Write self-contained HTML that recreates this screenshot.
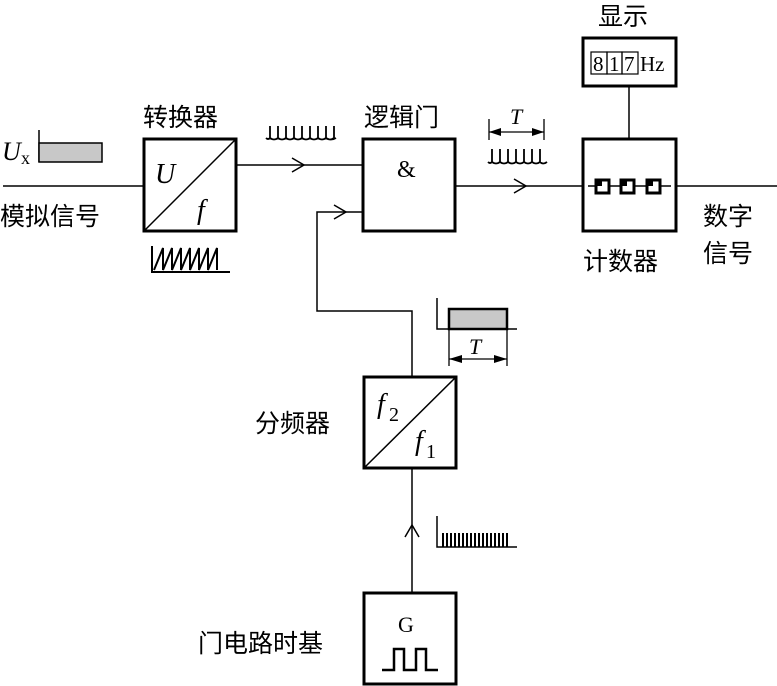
<!DOCTYPE html>
<html><head><meta charset="utf-8"><style>
html,body{margin:0;padding:0;background:#fff;}
svg{display:block;}
.c{font-family:"Liberation Sans","Noto Sans CJK SC",sans-serif;font-size:25px;fill:#000;}
.s{font-family:"Liberation Serif",serif;fill:#000;}
</style></head><body>
<svg width="777" height="686" viewBox="0 0 777 686" xmlns="http://www.w3.org/2000/svg">
<g stroke="#000" fill="none">
<!-- boxes -->
<rect x="144" y="139" width="92" height="92" stroke-width="3"/>
<line x1="144" y1="231" x2="236" y2="139" stroke-width="1.5"/>
<rect x="363" y="139" width="92" height="92" stroke-width="3"/>
<rect x="583" y="139" width="93" height="92" stroke-width="3"/>
<rect x="583" y="38" width="93" height="48" stroke-width="3"/>
<rect x="364" y="377" width="92" height="91" stroke-width="3"/>
<line x1="364" y1="468" x2="456" y2="377" stroke-width="1.5"/>
<rect x="364" y="593" width="92" height="91" stroke-width="3"/>
<!-- lines -->
<g stroke-width="1.5">
<line x1="3" y1="186" x2="144" y2="186"/>
<line x1="236" y1="165" x2="363" y2="165"/>
<polyline points="292,158 304,165 292,172"/>
<polyline points="412,377 412,311 317,311 317,212 363,212"/>
<polyline points="334,205 346,212 334,219"/>
<line x1="455" y1="186" x2="583" y2="186"/>
<polyline points="514,179 526,186 514,193"/>
<line x1="676" y1="186" x2="777" y2="186"/>
<line x1="629" y1="86" x2="629" y2="139"/>
<line x1="412" y1="468" x2="412" y2="593"/>
<polyline points="405,537 412,525 419,537"/>
<line x1="588" y1="186" x2="671" y2="186"/>
</g>
<!-- Ux -->
<line x1="39" y1="130" x2="39" y2="162" stroke-width="1.5"/>
<rect x="39" y="143" width="63" height="19" fill="#c8c8c8" stroke-width="1.5"/>
<!-- pulse trains -->
<path d="M266,138 q2,2 4,0 v-12 M270,138 q4,3 8,0 v-12 M278,138 q4,3 8,0 v-12 M286,138 q4,3 8,0 v-12 M294,138 q4,3 8,0 v-12 M302,138 q4,3 8,0 v-12 M310,138 q4,3 8,0 v-12 M318,138 q4,3 8,0 v-12 M326,138 q4,3 8,0 v-12 M326,138 q5,3 10,0" stroke-width="1.8"/>
<path d="M488,162 q2,2 4,0 v-13 M492,162 q4,3 8,0 v-13 M500,162 q4,3 8,0 v-13 M508,162 q4,3 8,0 v-13 M516,162 q4,3 8,0 v-13 M524,162 q4,3 8,0 v-13 M532,162 q4,3 8,0 v-13 M540,162 q3,3 7,0" stroke-width="1.8"/>
<!-- T dim -->
<line x1="489" y1="119" x2="489" y2="140" stroke-width="1.3"/>
<line x1="544" y1="119" x2="544" y2="140" stroke-width="1.3"/>
<line x1="489" y1="132" x2="544" y2="132" stroke-width="1.3"/>
<!-- sawtooth -->
<path d="M152,246 v26 h78 M154,270 l9,-22 v22 l9,-22 v22 l9,-22 v22 l9,-22 v22 l9,-22 v22 l9,-22 v22 l9,-22 v22" stroke-width="2"/>
<!-- gray T -->
<path d="M437,298 v31 h80" stroke-width="1.5"/>
<rect x="449" y="309" width="58" height="20" fill="#c8c8c8" stroke-width="2.5"/>
<line x1="449" y1="329" x2="449" y2="366" stroke-width="1.3"/>
<line x1="507" y1="329" x2="507" y2="366" stroke-width="1.3"/>
<line x1="449" y1="359" x2="507" y2="359" stroke-width="1.3"/>
<!-- small pulses -->
<path d="M437,516 v31 h80" stroke-width="1.5"/>
<path d="M443,547 v-14 M447,547 v-14 M451,547 v-14 M455,547 v-14 M459,547 v-14 M463,547 v-14 M467,547 v-14 M471,547 v-14 M475,547 v-14 M479,547 v-14 M483,547 v-14 M487,547 v-14 M491,547 v-14 M495,547 v-14 M499,547 v-14 M503,547 v-14 M507,547 v-14" stroke-width="2"/>
<!-- G pulse -->
<path d="M382,670 h12 v-21 h10 v21 h12 v-21 h10 v21 h12" stroke-width="2.5"/>
<!-- counter flip-flops -->
<g stroke-width="3" fill="#fff">
<rect x="596" y="180" width="13" height="13"/>
<rect x="621" y="180" width="13" height="13"/>
<rect x="647" y="180" width="13" height="13"/>
</g>
<g fill="#000" stroke="none">
<rect x="596" y="180" width="6" height="6"/>
<rect x="621" y="180" width="6" height="6"/>
<rect x="647" y="180" width="6" height="6"/>
</g>
<!-- display digits -->
<rect x="591" y="52" width="16" height="22" stroke-width="1.2"/>
<rect x="607" y="52" width="15" height="22" stroke-width="1.2"/>
<rect x="622" y="52" width="16" height="22" stroke-width="1.2"/>
</g>
<!-- arrowheads of dims -->
<g fill="#000">
<polygon points="489,132 501,128 501,136"/>
<polygon points="544,132 532,128 532,136"/>
<polygon points="449,359 462,355 462,363"/>
<polygon points="507,359 494,355 494,363"/>
</g>
<!-- text -->
<text class="c" x="143" y="126">转换器</text>
<text class="c" x="364" y="126">逻辑门</text>
<text class="c" x="598" y="25">显示</text>
<text class="c" x="0" y="225">模拟信号</text>
<text class="c" x="583" y="270">计数器</text>
<text class="c" x="703" y="225">数字</text>
<text class="c" x="703" y="262">信号</text>
<text class="c" x="255" y="432">分频器</text>
<text class="c" x="198" y="652">门电路时基</text>
<text class="s" x="2" y="160" font-size="26" font-style="italic">U</text>
<text class="s" x="21" y="164" font-size="18">x</text>
<text class="s" x="155" y="183" font-size="28" font-style="italic">U</text>
<text class="s" x="197" y="219" font-size="28" font-style="italic">f</text>
<text class="s" x="397" y="177" font-size="24">&amp;</text>
<text class="s" x="510" y="124" font-size="22" font-style="italic">T</text>
<text class="s" x="469" y="354" font-size="22" font-style="italic">T</text>
<text class="s" x="593" y="71" font-size="21">8</text>
<text class="s" x="609" y="71" font-size="21">1</text>
<text class="s" x="624" y="71" font-size="21">7</text>
<text class="s" x="640" y="71" font-size="21">Hz</text>
<text class="s" x="377" y="413" font-size="28" font-style="italic">f</text>
<text class="s" x="389" y="421" font-size="20">2</text>
<text class="s" x="415" y="450" font-size="28" font-style="italic">f</text>
<text class="s" x="426" y="458" font-size="20">1</text>
<text class="s" x="398" y="632" font-size="22">G</text>
</svg>
</body></html>
